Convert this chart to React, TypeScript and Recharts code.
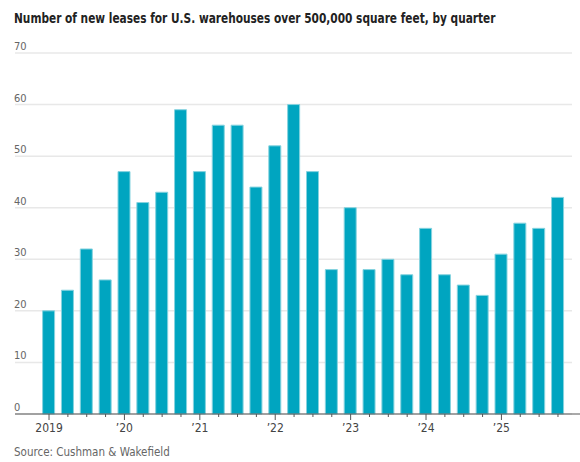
import { BarChart, Bar, XAxis, YAxis, CartesianGrid } from "recharts";

const quarters = [
  "2019", "", "", "",
  "’20", "", "", "",
  "’21", "", "", "",
  "’22", "", "", "",
  "’23", "", "", "",
  "’24", "", "", "",
  "’25", "", "", "",
];

const leases = [
  20, 24, 32, 26,
  47, 41, 43, 59,
  47, 56, 56, 44,
  52, 60, 47, 28,
  40, 28, 30, 27,
  36, 27, 25, 23,
  31, 37, 36, 42,
];

const yTicks = [0, 10, 20, 30, 40, 50, 60, 70];

const data = quarters.map((label, i) => ({ id: i, label, value: leases[i] }));

const font = "'DejaVu Sans Condensed', 'Liberation Sans', sans-serif";

const YTick = (props: any) => {
  const { y, payload } = props;
  return (
    <text x={14} y={y - 3} fill="#666" fontSize={11} fontFamily={font} textAnchor="start">
      {payload.value}
    </text>
  );
};

const XTick = (props: any) => {
  const { x, y, payload } = props;
  const label = quarters[payload.value];
  const isYear = label !== "";
  return (
    <g>
      <line x1={x} x2={x} y1={y} y2={y + (isYear ? 6 : 3)} stroke="#555" strokeWidth={1} />
      {isYear && (
        <text x={x} y={y + 18} fill="#444" fontSize={12} fontFamily={font} textAnchor="middle">
          {label}
        </text>
      )}
    </g>
  );
};

const GridLine = (props: any) => {
  const { x1, x2, y1, y2 } = props;
  return <line x1={x1} x2={x2 - 8} y1={y1} y2={y2} stroke="#e8e8e8" strokeWidth={1.5} />;
};

export default function App() {
  return (
    <div style={{ position: "absolute", left: 0, top: 0, width: 580, height: 462, background: "#fff" }}>
      <div
        style={{
          position: "absolute",
          left: 14,
          top: 10,
          fontFamily: font,
          fontWeight: "bold",
          fontSize: 14,
          color: "#222",
          whiteSpace: "nowrap",
          transform: "scaleX(0.84)",
          transformOrigin: "left top",
        }}
      >
        Number of new leases for U.S. warehouses over 500,000 square feet, by quarter
      </div>
      <div style={{ position: "absolute", left: 0, top: 0 }}>
        <BarChart
          width={580}
          height={440}
          data={data}
          margin={{ top: 53, right: 0, bottom: 0, left: 14 }}
        >
          <CartesianGrid vertical={false} horizontal={(p: any) => <GridLine {...p} />} />
          <YAxis
            type="number"
            domain={[0, 70]}
            ticks={yTicks}
            interval={0}
            width={1}
            axisLine={false}
            tickLine={false}
            tickSize={0}
            tickMargin={0}
            tick={(p: any) => <YTick {...p} />}
          />
          <XAxis
            dataKey="id"
            type="category"
            height={26}
            interval={0}
            padding={{ left: 24.6, right: 12.6 }}
            axisLine={{ stroke: "#555", strokeWidth: 1 }}
            tickLine={false}
            tickSize={0}
            tickMargin={0}
            tick={(p: any) => <XTick {...p} />}
          />
          <Bar
            dataKey="value"
            fill="#00a5c0"
            stroke="#86d3df"
            strokeWidth={1}
            barSize={12}
            isAnimationActive={false}
          />
        </BarChart>
      </div>
      <div
        style={{
          position: "absolute",
          left: 14,
          top: 445,
          fontFamily: font,
          fontSize: 11.5,
          color: "#666",
          whiteSpace: "nowrap",
        }}
      >
        Source: Cushman &amp; Wakefield
      </div>
    </div>
  );
}
